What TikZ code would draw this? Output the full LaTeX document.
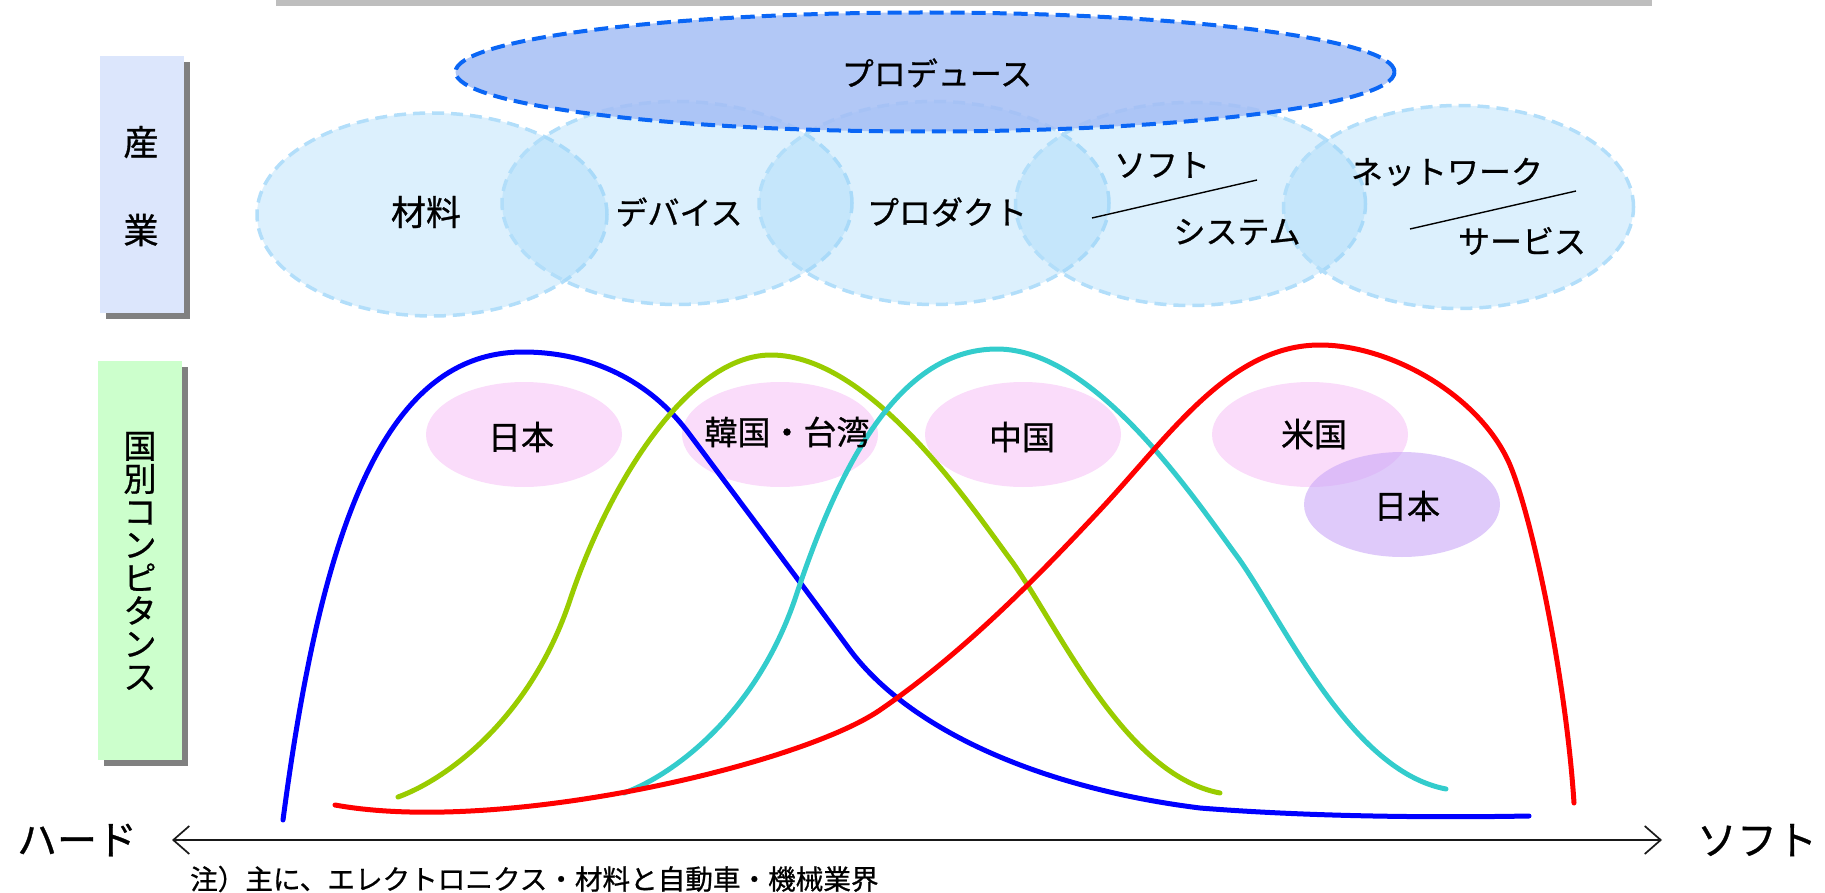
\documentclass[tikz,border=0pt]{standalone}
\usepackage{fontspec}
\setmainfont{Noto Sans CJK JP}[RawFeature={embolden=0.8}]
\usetikzlibrary{shapes.geometric,arrows.meta,shadows}

\definecolor{indfill}{HTML}{9BD4F8}
\definecolor{indline}{HTML}{B2DEFA}
\definecolor{prodfill}{HTML}{A4BEF5}
\definecolor{prodline}{HTML}{0A66F5}
\definecolor{pinkfill}{HTML}{FADCFA}
\definecolor{purpfill}{HTML}{CAA7F7}
\definecolor{boxblue}{HTML}{DCE6FC}
\definecolor{boxgreen}{HTML}{CCFFCC}
\definecolor{shadowgray}{HTML}{808080}
\definecolor{barcol}{HTML}{BEBEBE}
\definecolor{cblue}{HTML}{0000FF}
\definecolor{cgreen}{HTML}{99CC00}
\definecolor{ccyan}{HTML}{33CCCC}
\definecolor{cred}{HTML}{FF0000}

\begin{document}
\begin{tikzpicture}[x=1pt,y=-1pt,
  indell/.style={ellipse, minimum width=350, minimum height=203, inner sep=0,
    fill=indfill, fill opacity=0.35, draw=indline, draw opacity=1,
    line width=3.5, dash pattern=on 12pt off 7pt},
  prodell/.style={ellipse, minimum width=939, minimum height=119, inner sep=0,
    fill=prodfill, fill opacity=0.85, draw=prodline, draw opacity=1,
    line width=4, dash pattern=on 14pt off 7pt},
  cntell/.style={ellipse, minimum width=196, minimum height=105, inner sep=0,
    fill=pinkfill, draw=none},
  purpell/.style={ellipse, minimum width=196, minimum height=105, inner sep=0,
    fill=purpfill, fill opacity=0.6, draw=none},
  sidebox/.style={rectangle, inner sep=0, minimum width=84, draw=none,
    drop shadow={opacity=1, fill=shadowgray, shadow xshift=6pt, shadow yshift=-6pt}},
  kata/.style={font=\fontsize{32}{36}\selectfont, inner sep=0},
  kanji/.style={font=\fontsize{35}{38}\selectfont, inner sep=0},
  cnt/.style={font=\fontsize{33}{36}\selectfont, inner sep=0},
  axlbl/.style={font=\fontsize{40}{44}\selectfont, inner sep=0},
  slash/.style={line width=1.4, black},
  curve/.style={line width=5, line cap=round, line join=round},
  axisline/.style={line width=1.7, black!90,
    {Straight Barb[length=16pt,width=28pt]}-{Straight Barb[length=16pt,width=28pt]}}
]
\useasboundingbox (0,0) rectangle (1825,893);

% top bar
\node[fill=barcol, minimum width=1376, minimum height=6, inner sep=0, anchor=north west] (bar) at (276,0) {};

% side boxes
\node[sidebox, fill=boxblue, minimum height=257] (sangyo) at (142,184.5) {};
\node[kanji] (san) at (141,142) {産};
\node[kanji] (gyo) at (141,230) {業};
\node[sidebox, fill=boxgreen, minimum height=399] (kokubox) at (140,560.5) {};
\node[font=\fontsize{33}{33}\selectfont, align=center, inner sep=0] (koku) at (140,561)
  {国\\別\\コ\\ン\\ピ\\タ\\ン\\ス};

% industry ellipses
\node[indell] (zai) at (432,214.5) {};
\node[indell] (dev) at (677,203) {};
\node[indell] (prd) at (934,203) {};
\node[indell] (sys) at (1190.5,204) {};
\node[indell] (net) at (1458.5,207) {};

% producer
\node[prodell] (prod) at (925,72) {};
\node[kata] (prodt) at (937,73) {プロデュース};

% industry texts
\node[kanji] (zait) at (426,212) {材料};
\node[kata] (devt) at (679,212) {デバイス};
\node[kata] (prdt) at (947,212) {プロダクト};
\node[kata] (soft1) at (1162,165) {ソフト};
\node[kata] (syst) at (1237,232) {システム};
\node[kata] (nett) at (1447,172) {ネットワーク};
\node[kata] (svct) at (1522,241) {サービス};
\coordinate (s1a) at (1092,218);
\coordinate (s1b) at (1257,180);
\coordinate (s2a) at (1410,229);
\coordinate (s2b) at (1576,191);
\draw[slash] (s1a) -- (s1b);
\draw[slash] (s2a) -- (s2b);

% country ellipses
\node[cntell] (jpe) at (524,434.5) {};
\node[cntell] (kre) at (780,434.5) {};
\node[cntell] (cne) at (1023,434.5) {};
\node[cntell] (use) at (1310,434.5) {};
\node[purpell] (jp2e) at (1402,504.5) {};

% curves
\draw[curve, cblue] (283,820) .. controls (320,540) and (380,352) .. (523,352)
  .. controls (590,352) and (650,380) .. (690,435)
  .. controls (750,515) and (800,582) .. (850,650)
  .. controls (910,730) and (1040,788) .. (1200,808)
  .. controls (1300,816) and (1420,818) .. (1529,816);
\draw[curve, cgreen] (398,797) .. controls (445,780) and (530,720) .. (570,600)
  .. controls (610,480) and (690,355) .. (771,355)
  .. controls (870,355) and (970,505) .. (1013,563)
  .. controls (1060,630) and (1125,775) .. (1220,793);
\draw[curve, ccyan] (624,793) .. controls (671,776) and (756,716) .. (796,596)
  .. controls (836,476) and (895,349) .. (997,349)
  .. controls (1096,349) and (1196,501) .. (1239,559)
  .. controls (1286,626) and (1351,771) .. (1446,789);
\draw[curve, cred] (335,805) .. controls (500,835) and (800,765) .. (880,710)
  .. controls (960,655) and (1030,585) .. (1100,510)
  .. controls (1170,435) and (1230,345) .. (1320,345)
  .. controls (1390,345) and (1480,395) .. (1510,465)
  .. controls (1533,520) and (1566,680) .. (1574,803);

% country texts
\node[cnt] (jpt) at (521,437) {日本};
\node[cnt] (krt) at (787,432) {韓国・台湾};
\node[cnt] (cnt1) at (1022,437) {中国};
\node[cnt] (ust) at (1314,434) {米国};
\node[cnt] (jp2t) at (1407,506) {日本};

% axis
\node[axlbl] (hard) at (77,840) {ハード};
\node[axlbl] (softax) at (1757,840) {ソフト};
\coordinate (axL) at (172,840);
\coordinate (axR) at (1662,840);
\draw[axisline] (axL) -- (axR);
\node[font=\fontsize{27.6}{30}\selectfont, inner sep=0, anchor=west] (note) at (190,879)
  {注）主に、エレクトロニクス・材料と自動車・機械業界};
\end{tikzpicture}
\end{document}
